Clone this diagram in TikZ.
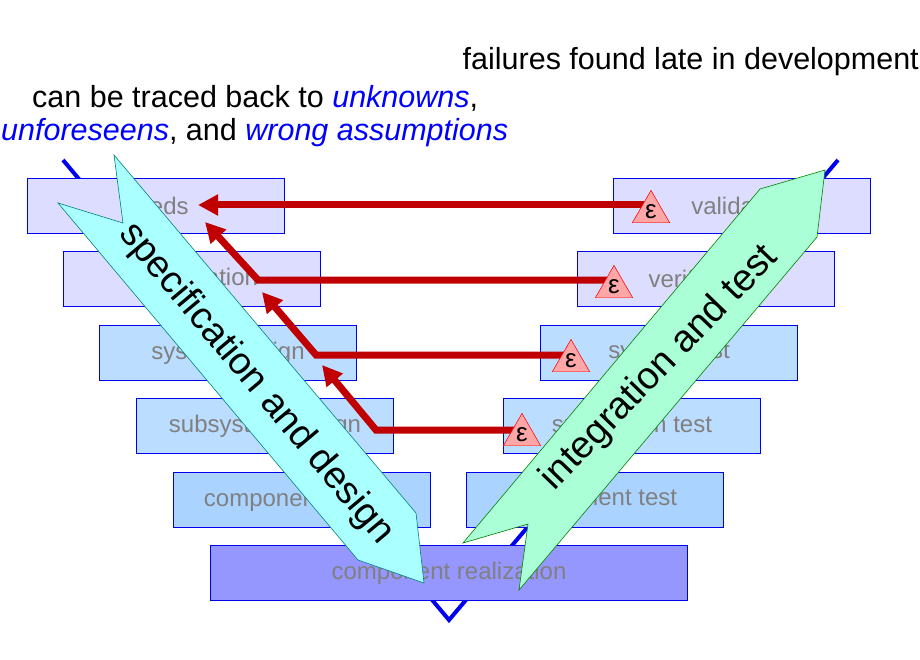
\documentclass[tikz,border=0pt]{standalone}
\usepackage{fontspec}
\setmainfont{Liberation Sans}
\usetikzlibrary{arrows.meta,shapes.geometric}
\definecolor{vblue}{RGB}{0,0,240}
\definecolor{lvlA}{RGB}{221,221,255}
\definecolor{lvlB}{RGB}{187,221,255}
\definecolor{lvlC}{RGB}{170,212,255}
\definecolor{lvlD}{RGB}{150,150,255}
\definecolor{failred}{RGB}{192,0,0}
\definecolor{specfill}{RGB}{170,255,255}
\definecolor{testfill}{RGB}{170,255,214}
\tikzset{
    phase/.style={draw=vblue, line width=1pt, minimum width=257pt, minimum height=55pt,
        inner sep=0pt, text=gray, font=\fontsize{24}{28}\selectfont},
    trace/.style={draw=failred, line width=7pt, line join=miter,
        -{Triangle[length=20pt,width=20pt]}},
    eps/.style={regular polygon, regular polygon sides=3, draw=red, fill=red!35,
        minimum size=43pt, inner sep=0pt, font=\fontsize{26}{28}\selectfont},
    bigarrow/.style={line width=0.6pt},
}
\begin{document}
\begin{tikzpicture}[x=1pt, y=-1pt]
\useasboundingbox (0,0) rectangle (920,660);

% the V
\draw[vblue, line width=4pt] (63,160) -- (449,620) -- (838,160);

% phases, left leg
\node[phase, fill=lvlA] (needs) at (156,206) {needs};
\node[phase, fill=lvlA] (spec) at (192,279) {specification};
\node[phase, fill=lvlB] (sysdes) at (228,353) {system design};
\node[phase, fill=lvlB] (subdes) at (265,426) {subsystem design};
\node[phase, fill=lvlC] (compdes) at (302,500) {component design};
\node[phase, fill=lvlD, minimum width=477pt] (real) at (449,573) {component realization};
% phases, right leg
\node[phase, fill=lvlA] (valid) at (742,206) {validation};
\node[phase, fill=lvlA] (verif) at (706,279) {verification};
\node[phase, fill=lvlB] (systest) at (669,353) {system test};
\node[phase, fill=lvlB] (subtest) at (632,426) {subsystem test};
\node[phase, fill=lvlC] (comptest) at (595,500) {component test};

% failures traced back
\node[eps] (e1) at (651,212) {};
\node[eps] (e2) at (614,287) {};
\node[eps] (e3) at (571,361) {};
\node[eps] (e4) at (522,435) {};
\coordinate (t1) at (198,205);
\coordinate (t2) at (205,222);
\coordinate (t3) at (262,292);
\coordinate (t4) at (322,365);
\draw[trace] ([yshift=7pt]e1.center) -- (t1);
\draw[trace] ([yshift=7pt]e2.center) -- (258,280) -- (t2);
\draw[trace] ([yshift=6pt]e3.center) -- (316,355) -- (t3);
\draw[trace] ([yshift=5pt]e4.center) -- (376,430) -- (t4);
\node[eps] at (e1) {ε};
\node[eps] at (e2) {ε};
\node[eps] at (e3) {ε};
\node[eps] at (e4) {ε};

% big arrows
\draw[bigarrow, draw=teal, fill=specfill]
    (114,155) -- (123,223) -- (58,203) -- (358,560) -- (424,583) -- (416,513) -- cycle;
\node[rotate=-50, font=\fontsize{38}{42}\selectfont] (specdesign) at (256,384) {specification and design};
\draw[bigarrow, draw=green!50!black, fill=testfill]
    (463,543) -- (528,524) -- (519,590) -- (817,237) -- (825,170) -- (760,189) -- cycle;
\node[rotate=46, font=\fontsize{38}{42}\selectfont] (inttest) at (660,368) {integration and test};

% caption
\begin{scope}[font=\fontsize{30.5}{34}\selectfont]
\node[anchor=east, inner sep=1pt] (late) at (920,62) {failures found late in development};
\node[anchor=west, inner sep=1pt] (traced) at (31,98) {can be traced back to \textcolor{blue}{\itshape unknowns},};
\node[anchor=west, inner sep=1pt] (wrong) at (0,133) {\textcolor{blue}{\itshape unforeseens}, and \textcolor{blue}{\itshape wrong assumptions}};
\end{scope}
\end{tikzpicture}
\end{document}
